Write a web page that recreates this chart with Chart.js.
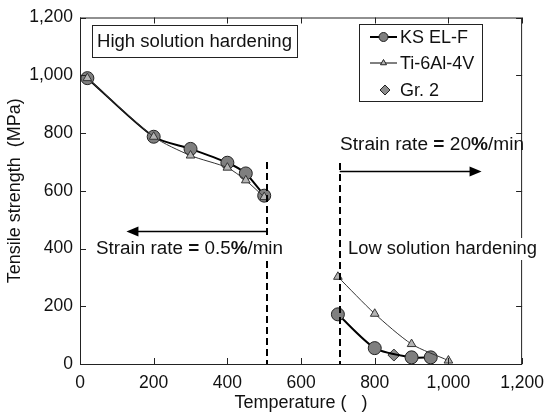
<!DOCTYPE html>
<html>
<head>
<meta charset="utf-8">
<script src="https://cdn.jsdelivr.net/npm/chart.js@4"></script>
<style>
  html, body { margin: 0; padding: 0; background: #fff; }
  #wrap { width: 553px; height: 416px; }
</style>
</head>
<body>
<div id="wrap"><canvas id="chart" width="553" height="416"></canvas></div>
<script>
// --------------------
// Data
// --------------------
const ksTemp = [20, 200, 300, 400, 450, 500, 600, 700, 800, 900, 952];
const ksStrength = [990, 787, 745, 697, 660, 583, null, 172, 55, 23, 23];

const tiTemp = [20, 200, 300, 400, 450, 500, 600, 700, 800, 900, 1000];
const tiStrength = [990, 787, 722, 680, 636, 578, null, 302, 174, 69, 12];

const gr2Temp = [852];
const gr2Strength = [31];

const seriesLabels = ["KS EL-F", "Ti-6Al-4V", "Gr. 2"];

const xTicks = [0, 200, 400, 600, 800, 1000, 1200];
const yTicks = [0, 200, 400, 600, 800, 1000, 1200];

// dashed limits, arrows (temperature, strength)
const dashLines = [{ x: 507, top: 700 }, { x: 705, top: 696 }];
const arrows = [{ from: 507, to: 126, y: 462 }, { from: 705, to: 1090, y: 667 }];

const FONT = "'Liberation Sans', Arial, sans-serif";

function toPoints(xs, ys) {
  return xs.map((x, i) => ({ x: x, y: ys[i] }));
}

// --------------------
// Marker styles
// --------------------
const ksStyle = { pointStyle: "circle", radius: 6.5, fill: "#7f7f7f" };
const tiStyle = { pointStyle: "triangle", radius: 5, fill: "#b4b4b4" };
const grStyle = { pointStyle: "rectRot", radius: 6, fill: "#8c8c8c" };

// --------------------
// Frame, inward ticks, annotations, legend
// --------------------
function drawRichText(ctx, parts, x, y, targetW, size) {
  let w = 0;
  parts.forEach(p => {
    ctx.font = (p.bold ? "bold " : "") + size + "px " + FONT;
    w += ctx.measureText(p.t).width;
  });
  const sx = targetW ? targetW / w : 1;
  ctx.save();
  ctx.translate(x, y);
  ctx.scale(sx, 1);
  let cx = 0;
  parts.forEach(p => {
    ctx.font = (p.bold ? "bold " : "") + size + "px " + FONT;
    ctx.fillText(p.t, cx, 0);
    cx += ctx.measureText(p.t).width;
  });
  ctx.restore();
}

function arrowHead(ctx, x, y, dir) {
  ctx.beginPath();
  ctx.moveTo(x, y);
  ctx.lineTo(x - dir * 12, y - 5);
  ctx.lineTo(x - dir * 12, y + 5);
  ctx.closePath();
  ctx.fill();
}

const decorPlugin = {
  id: "decor",
  afterDraw(chart) {
    const ctx = chart.ctx;
    const xs = chart.scales.x, ys = chart.scales.y;
    const a = chart.chartArea;
    ctx.save();

    // frame
    ctx.strokeStyle = "#222";
    ctx.lineWidth = 1;
    ctx.strokeRect(a.left + 0.5, a.top + 0.5, a.right - a.left - 1, a.bottom - a.top);

    // inward ticks on all sides
    ctx.beginPath();
    xTicks.forEach(v => {
      const px = Math.round(xs.getPixelForValue(v)) + 0.5;
      ctx.moveTo(px, a.bottom); ctx.lineTo(px, a.bottom - 6);
      ctx.moveTo(px, a.top); ctx.lineTo(px, a.top + 6);
    });
    yTicks.forEach(v => {
      const py = Math.round(ys.getPixelForValue(v)) + 0.5;
      ctx.moveTo(a.left, py); ctx.lineTo(a.left + 6, py);
      ctx.moveTo(a.right, py); ctx.lineTo(a.right - 6, py);
    });
    ctx.stroke();

    // dashed vertical lines
    ctx.strokeStyle = "#000";
    ctx.lineWidth = 2;
    ctx.setLineDash([7, 4]);
    dashLines.forEach(d => {
      const px = Math.round(xs.getPixelForValue(d.x));
      ctx.beginPath();
      ctx.moveTo(px, ys.getPixelForValue(d.top));
      ctx.lineTo(px, a.bottom);
      ctx.stroke();
    });
    ctx.setLineDash([]);

    // arrows
    ctx.fillStyle = "#000";
    ctx.lineWidth = 1.5;
    arrows.forEach(r => {
      const x1 = xs.getPixelForValue(r.from), x2 = xs.getPixelForValue(r.to);
      const py = Math.round(ys.getPixelForValue(r.y)) + 0.5;
      const dir = x2 > x1 ? 1 : -1;
      ctx.beginPath();
      ctx.moveTo(x1, py);
      ctx.lineTo(x2 - dir * 8, py);
      ctx.stroke();
      arrowHead(ctx, x2, py, dir);
    });

    ctx.textBaseline = "middle";

    // "High solution hardening" box
    ctx.fillStyle = "#fff";
    ctx.fillRect(92, 25, 205, 32);
    ctx.strokeStyle = "#222";
    ctx.lineWidth = 1;
    ctx.strokeRect(92.5, 25.5, 205, 32);
    ctx.fillStyle = "#111";
    drawRichText(ctx, [{ t: "High solution hardening" }], 97, 42, 195, 18);

    // strain rate labels
    ctx.fillStyle = "#fff";
    ctx.fillRect(94, 238, 190, 22);
    ctx.fillRect(346, 238, 193, 22);
    ctx.fillStyle = "#111";
    drawRichText(ctx, [
      { t: "Strain rate " }, { t: "=", bold: true }, { t: " 0.5" }, { t: "%", bold: true }, { t: "/min" }
    ], 96, 249, 187, 18);
    drawRichText(ctx, [
      { t: "Strain rate " }, { t: "=", bold: true }, { t: " 20" }, { t: "%", bold: true }, { t: "/min" }
    ], 340, 145, 184, 18);
    drawRichText(ctx, [{ t: "Low solution hardening" }], 348, 249, 189, 18);

    // legend
    const lx = 359, ly = 24, lw = 123, lh = 77;
    ctx.fillStyle = "#fff";
    ctx.fillRect(lx, ly, lw, lh);
    ctx.strokeStyle = "#222";
    ctx.strokeRect(lx + 0.5, ly + 0.5, lw, lh);
    const rows = [
      { label: seriesLabels[0], y: 37, line: 2, st: ksStyle, r: 4.5 },
      { label: seriesLabels[1], y: 63, line: 1, st: tiStyle, r: 3.5 },
      { label: seriesLabels[2], y: 90, line: 0, st: grStyle, r: 5 }
    ];
    rows.forEach(row => {
      if (row.line) {
        ctx.strokeStyle = "#000";
        ctx.lineWidth = row.line;
        ctx.beginPath();
        ctx.moveTo(370, row.y);
        ctx.lineTo(397, row.y);
        ctx.stroke();
      }
      ctx.fillStyle = row.st.fill;
      ctx.strokeStyle = "#222";
      ctx.lineWidth = 1;
      Chart.helpers.drawPoint(ctx, { pointStyle: row.st.pointStyle, radius: row.r, borderWidth: 1 }, row.line ? 383.5 : 385, row.y);
      ctx.fillStyle = "#111";
      drawRichText(ctx, [{ t: row.label }], 400, row.y + 1, 0, 18);
    });

    ctx.restore();
  }
};

// --------------------
// Chart
// --------------------
new Chart(document.getElementById("chart"), {
  type: "line",
  data: {
    datasets: [
      {
        label: seriesLabels[0],
        data: toPoints(ksTemp, ksStrength),
        borderColor: "#000",
        borderWidth: 2,
        backgroundColor: ksStyle.fill,
        pointBackgroundColor: ksStyle.fill,
        pointBorderColor: "#222",
        pointBorderWidth: 1,
        pointStyle: ksStyle.pointStyle,
        pointRadius: ksStyle.radius,
        tension: 0.25,
        spanGaps: false,
        order: 1
      },
      {
        label: seriesLabels[1],
        data: toPoints(tiTemp, tiStrength),
        borderColor: "#333",
        borderWidth: 1,
        backgroundColor: tiStyle.fill,
        pointBackgroundColor: tiStyle.fill,
        pointBorderColor: "#333",
        pointBorderWidth: 1,
        pointStyle: tiStyle.pointStyle,
        pointRadius: tiStyle.radius,
        tension: 0.25,
        spanGaps: false,
        order: 0
      },
      {
        label: seriesLabels[2],
        data: toPoints(gr2Temp, gr2Strength),
        showLine: false,
        backgroundColor: grStyle.fill,
        pointBackgroundColor: grStyle.fill,
        pointBorderColor: "#333",
        pointBorderWidth: 1,
        pointStyle: grStyle.pointStyle,
        pointRadius: grStyle.radius,
        order: 2
      }
    ]
  },
  options: {
    responsive: false,
    animation: false,
    devicePixelRatio: 1,
    layout: { padding: { top: 14, right: 25, left: 0, bottom: 0 } },
    plugins: { legend: { display: false }, tooltip: { enabled: false } },
    scales: {
      x: {
        type: "linear",
        min: 0, max: 1200,
        afterBuildTicks: s => { s.ticks = xTicks.map(v => ({ value: v })); },
        afterFit: s => { s.height = 52; },
        grid: { display: false, drawTicks: false },
        border: { display: false },
        ticks: {
          padding: 9,
          color: "#111",
          font: { family: FONT, size: 17.5 },
          callback: v => v.toLocaleString("en-US")
        },
        title: {
          display: true,
          text: "Temperature (   )",
          color: "#111",
          font: { family: FONT, size: 18 },
          padding: { top: 0, bottom: 2 }
        }
      },
      y: {
        min: 0, max: 1200,
        afterBuildTicks: s => { s.ticks = yTicks.map(v => ({ value: v })); },
        afterFit: s => { s.width = 80; },
        grid: { display: false, drawTicks: false },
        border: { display: false },
        ticks: {
          padding: 7,
          color: "#111",
          font: { family: FONT, size: 17.5 },
          callback: v => v.toLocaleString("en-US")
        },
        title: {
          display: true,
          text: "Tensile strength  (MPa)",
          color: "#111",
          font: { family: FONT, size: 18 },
          padding: { top: 4, bottom: 0 }
        }
      }
    }
  },
  plugins: [decorPlugin]
});
</script>
</body>
</html>
